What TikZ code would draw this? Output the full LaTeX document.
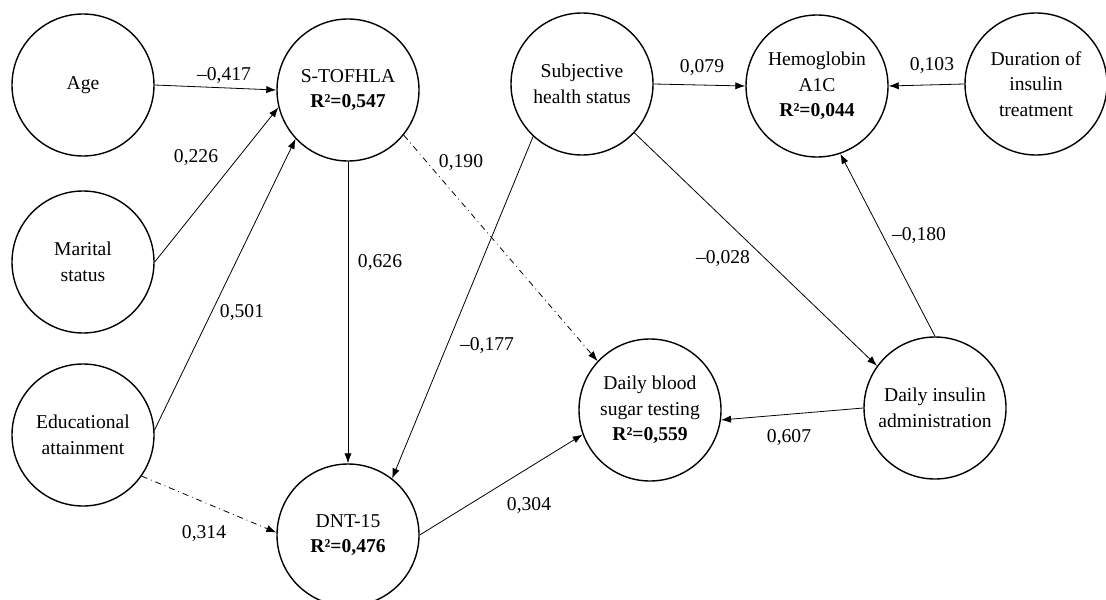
\documentclass[tikz,border=0pt]{standalone}
\usepackage{fontspec}
\setmainfont{Liberation Serif}
\usepackage{tikz}
\usetikzlibrary{arrows.meta}
\tikzstyle{construct}=[draw, circle, line width=0.7pt, minimum size=71pt, inner sep=0pt, align=center, font=\fontsize{9.8}{12.8}\selectfont]
\tikzstyle{effect}=[-{Latex[length=5pt,width=3.6pt]}, line width=0.4pt]
\tikzstyle{weak effect}=[effect, dash dot]
\tikzstyle{coef}=[inner sep=1pt, font=\fontsize{9.8}{12}\selectfont]

\begin{document}
\begin{tikzpicture}[x=0.5pt,y=-0.5pt]
\useasboundingbox (0,0) rectangle (1106,599);

% constructs
\node[construct] (age) at (83,85) {Age};
\node[construct] (marital) at (83,262) {Marital\\status};
\node[construct] (edu) at (83,435) {Educational\\attainment};
\node[construct] (stofhla) at (348,90) {S-TOFHLA\\\textbf{R²=0,547}};
\node[construct] (dnt) at (348,535) {DNT-15\\\textbf{R²=0,476}};
\node[construct] (subj) at (582,84) {Subjective\\health status};
\node[construct] (hba) at (817,86) {Hemoglobin\\A1C\\\textbf{R²=0,044}};
\node[construct] (dur) at (1036,84) {Duration of\\insulin\\treatment};
\node[construct] (blood) at (650,410) {Daily blood\\sugar testing\\\textbf{R²=0,559}};
\node[construct] (insulin) at (935,408) {Daily insulin\\administration};

% paths
\draw[effect] (age.east) -- (stofhla.west);
\draw[effect] (marital.east) -- (stofhla.194);
\draw[effect] (edu.4) -- (stofhla.223);
\draw[effect] (stofhla.south) -- (dnt.north);
\draw[weak effect] (edu.-35) -- (dnt.178);
\draw[weak effect] (stofhla.-39) -- (blood.137);
\draw[effect] (subj.227) -- (dnt.52);
\draw[effect] (subj.east) -- (hba.west);
\draw[effect] (dur.west) -- (hba.east);
\draw[effect] (subj.-43) -- (insulin.144);
\draw[effect] (insulin.north) -- (hba.-71);
\draw[effect] (insulin.west) -- (blood.-8);
\draw[effect] (dnt.east) -- (blood.200);

% coefficients
\node[coef] (c-age) at (224,75) {--0,417};
\node[coef] (c-mar) at (196,157) {0,226};
\node[coef] (c-edu) at (242,312) {0,501};
\node[coef] (c-st-dnt) at (380,262) {0,626};
\node[coef] (c-edu-dnt) at (204,533) {0,314};
\node[coef] (c-st-bl) at (461,162) {0,190};
\node[coef] (c-subj-hba) at (702,67) {0,079};
\node[coef] (c-subj-ins) at (723,258) {--0,028};
\node[coef] (c-dur) at (932,65) {0,103};
\node[coef] (c-ins-hba) at (919,235) {--0,180};
\node[coef] (c-subj-dnt) at (487,345) {--0,177};
\node[coef] (c-dnt-bl) at (529,505) {0,304};
\node[coef] (c-ins-bl) at (789,437) {0,607};

\end{tikzpicture}
\end{document}
